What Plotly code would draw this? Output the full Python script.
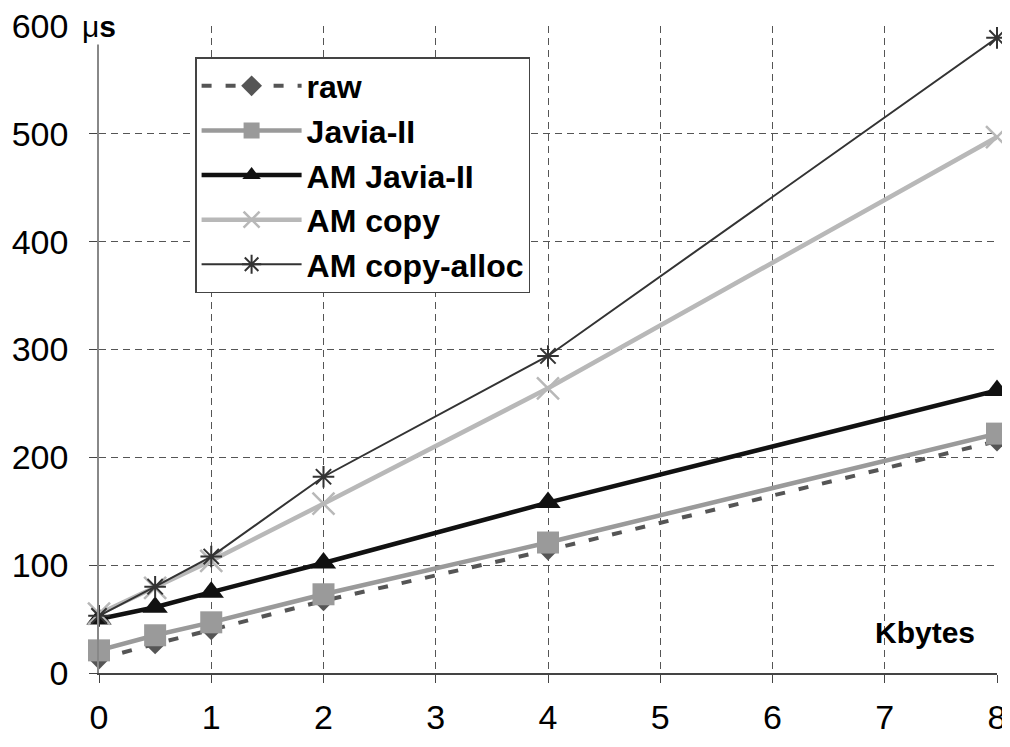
import plotly.graph_objects as go

kbytes = [0, 0.5, 1, 2, 4, 8]
raw = [13, 27, 40, 67, 114, 215]
javia2 = [21, 35, 47, 73, 121, 222]
am_javia2 = [50, 61, 75, 102, 158, 262]
am_copy = [55, 79, 104, 157, 264, 497]
am_copy_alloc = [53, 80, 108, 182, 294, 589]
x_ticks = [0, 1, 2, 3, 4, 5, 6, 7, 8]
y_ticks = [0, 100, 200, 300, 400, 500, 600]

series = [
    ("raw", raw, dict(color="#555555", width=4, dash="10px,14px"), dict(symbol="diamond", size=16, color="#555555")),
    ("Javia-II", javia2, dict(color="#9a9a9a", width=4.5), dict(symbol="square", size=22, color="#9a9a9a")),
    ("AM Javia-II", am_javia2, dict(color="#111111", width=4.5), dict(symbol="triangle-up", size=22, color="#111111")),
    ("AM copy", am_copy, dict(color="#b8b8b8", width=4.5), dict(symbol="x-thin-open", size=22, color="#b8b8b8", line=dict(color="#b8b8b8", width=2.5))),
    ("AM copy-alloc", am_copy_alloc, dict(color="#333333", width=2), dict(symbol="asterisk-open", size=18, color="#333333", line=dict(color="#333333", width=2))),
]

fig = go.Figure()
for name, ys, line, marker in series:
    fig.add_trace(go.Scatter(x=kbytes, y=ys, mode="lines+markers", name=name,
                             line=line, marker=marker, cliponaxis=False))

font_family = "Liberation Sans, Arial, sans-serif"
axis_common = dict(showgrid=True, gridcolor="#555555", griddash="7px,5px", gridwidth=1,
                   zeroline=False, ticks="outside", ticklen=8, tickcolor="#444444",
                   tickfont=dict(size=34), automargin=False, ticklabeloverflow="allow")
fig.update_layout(
    width=1002, height=731,
    margin=dict(l=91, r=13, t=18, b=66),
    paper_bgcolor="white", plot_bgcolor="white",
    font=dict(family=font_family, size=30, color="black"),
    showlegend=True,
    legend=dict(x=0.107, y=0.952, xanchor="left", yanchor="top",
                bgcolor="white", bordercolor="#444444", borderwidth=1.5,
                font=dict(family=font_family, size=32, color="black", weight="bold"),
                itemwidth=100, tracegroupgap=0),
    xaxis=dict(range=[0, 8], tickvals=x_ticks, showline=True, linecolor="#444444",
               linewidth=1.5, ticklabelstandoff=5, **axis_common),
    yaxis=dict(range=[0, 600], tickvals=y_ticks, showline=True, linecolor="#888888",
               linewidth=1.5, ticklabelstandoff=14, **axis_common),
)

fig.add_annotation(text="μ<b>s</b>", xref="paper", yref="paper", x=-0.0212, y=1.0,
                   xanchor="left", yanchor="middle", showarrow=False,
                   font=dict(size=30, family=font_family), bgcolor="white")
fig.add_annotation(text="<b>Kbytes</b>", xref="paper", yref="paper", x=0.978, y=0.063,
                   xanchor="right", yanchor="middle", showarrow=False,
                   font=dict(size=30, family=font_family))

fig.write_html("out.html")
